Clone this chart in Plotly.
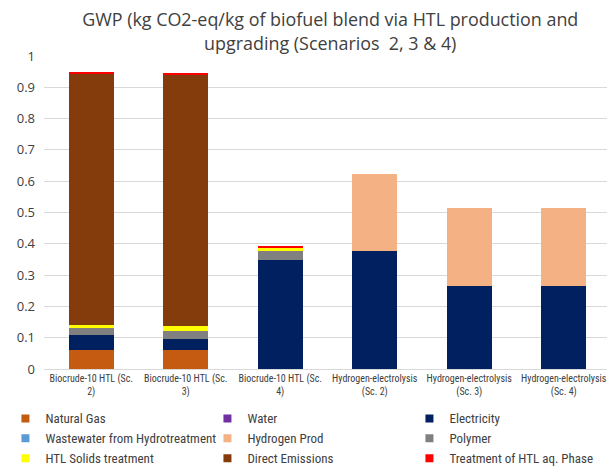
import plotly.graph_objects as go

categories = ["Biocrude-10 HTL (Sc.<br>2)", "Biocrude-10 HTL (Sc.<br>3)", "Biocrude-10 HTL (Sc.<br>4)",
              "Hydrogen-electrolysis<br>(Sc. 2)", "Hydrogen-electrolysis<br>(Sc. 3)", "Hydrogen-electrolysis<br>(Sc. 4)"]

natural_gas = [0.060, 0.060, 0, 0, 0, 0]
water = [0, 0, 0, 0, 0, 0]
electricity = [0.048, 0.035, 0.348, 0.376, 0.264, 0.264]
wastewater = [0, 0, 0, 0, 0, 0]
hydrogen_prod = [0, 0, 0, 0.246, 0.250, 0.250]
polymer = [0.024, 0.027, 0.028, 0, 0, 0]
htl_solids = [0.009, 0.016, 0.013, 0, 0, 0]
direct_emissions = [0.803, 0.803, 0, 0, 0, 0]
treatment_aq = [0.004, 0.004, 0.005, 0, 0, 0]

series = [
    ("Natural Gas", natural_gas, "#C55A11"),
    ("Water", water, "#7030A0"),
    ("Electricity", electricity, "#002060"),
    ("Wastewater from Hydrotreatment", wastewater, "#5B9BD5"),
    ("Hydrogen Prod", hydrogen_prod, "#F4B183"),
    ("Polymer", polymer, "#808080"),
    ("HTL Solids treatment", htl_solids, "#FFFF00"),
    ("Direct Emissions", direct_emissions, "#843C0C"),
    ("Treatment of HTL aq. Phase", treatment_aq, "#FF0000"),
]

fig = go.Figure()
for name, vals, color in series:
    fig.add_trace(go.Bar(x=categories, y=vals, name=name, marker_color=color,
                         marker_line_width=0, showlegend=False, legendgroup=name))
# legend entries with small square swatches like the reference
for name, vals, color in series:
    fig.add_trace(go.Scatter(x=[None], y=[None], mode="markers", name=name, legendgroup=name,
                             marker=dict(symbol="square", size=8, color=color), hoverinfo="skip"))

fig.update_layout(
    barmode="stack",
    bargap=0.525,
    width=615, height=470,
    margin=dict(l=36, r=12, t=48, b=109, autoexpand=False),
    paper_bgcolor="white", plot_bgcolor="white",
    font=dict(family="Open Sans, Liberation Sans, sans-serif", color="#404040"),
    title=dict(text="GWP (kg CO2-eq/kg of biofuel blend via HTL production and<br>upgrading (Scenarios  2, 3 & 4)",
               x=0.524, xanchor="center", y=0.961, yanchor="top",
               font=dict(size=17.9, color="#404040")),
    yaxis=dict(range=[0, 1], gridcolor="#d9d9d9", gridwidth=1,
               zeroline=False, showline=False, tickfont=dict(size=13, color="#404040"),
               ticks="", ticklabelstandoff=8, tickvals=[0,0.1,0.2,0.3,0.4,0.5,0.6,0.7,0.8,0.9,1],
               ticktext=["0","0.1","0.2","0.3","0.4","0.5","0.6","0.7","0.8","0.9","1"]),
    xaxis=dict(tickfont=dict(size=10, family="Liberation Sans Narrow, Roboto Condensed, Liberation Sans", color="#404040"),
               showline=True, linecolor="#d9d9d9", ticks="", tickangle=0),
    legend=dict(orientation="h", x=-0.068, xanchor="left", y=-0.110, yanchor="top",
                traceorder="normal", entrywidth=157,
                font=dict(size=13, family="Liberation Sans Narrow, Roboto Condensed, Liberation Sans", color="#404040"),
                itemwidth=30, tracegroupgap=0),
)

fig.write_html("out.html")
